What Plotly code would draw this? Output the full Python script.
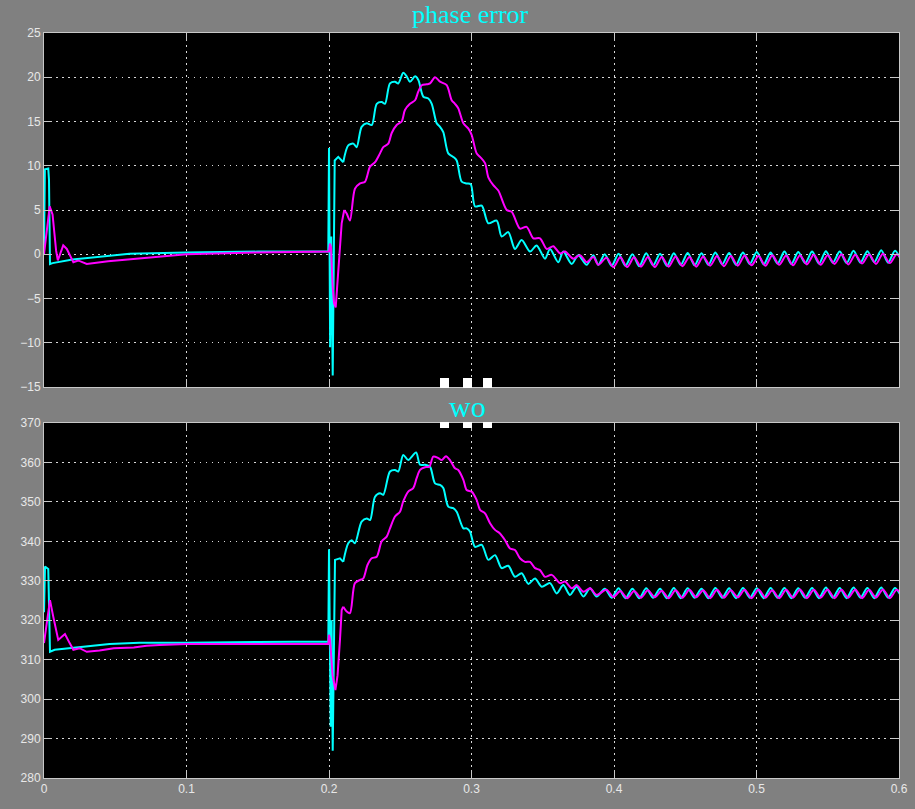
import plotly.graph_objects as go

# ---------------- data ----------------
x_ticks = [0, 0.1, 0.2, 0.3, 0.4, 0.5, 0.6]
x_tick_labels = ["0", "0.1", "0.2", "0.3", "0.4", "0.5", "0.6"]
pe_ticks = [-15, -10, -5, 0, 5, 10, 15, 20, 25]
wo_ticks = [280, 290, 300, 310, 320, 330, 340, 350, 360, 370]

# phase error, cyan signal
pe_cyan_t = [0, 0.0006, 0.003, 0.0035, 0.0042, 0.006, 0.02, 0.046, 0.06, 0.1, 0.15, 0.1995,
             0.2, 0.2008, 0.2016, 0.2026, 0.2040, 0.2065,
             0.2100, 0.2135, 0.2171, 0.2194, 0.2229, 0.2265, 0.2300, 0.2335, 0.2370, 0.2393,
             0.2428, 0.2463, 0.2486, 0.2521, 0.2545, 0.2568, 0.2604, 0.2627, 0.2662, 0.2697,
             0.2721, 0.2756, 0.2779, 0.2802, 0.2837, 0.2872, 0.2896, 0.2931, 0.2966, 0.2995,
             0.3025, 0.3072, 0.3118, 0.3177, 0.3212, 0.3258, 0.3305, 0.3352, 0.3411, 0.3457,
             0.3516, 0.3551, 0.3609, 0.3644, 0.3703, 0.3749, 0.3808, 0.3855, 0.3890]
pe_cyan_v = [0.0, 9.6, 9.7, 8.4, -1.1, -1.0, -0.6, -0.2, 0.05, 0.2, 0.3, 0.3,
             12.0, -10.5, 2.0, -13.7, 10.6, 11.0,
             10.4, 12.3, 12.5, 12.1, 14.4, 14.8, 14.6, 17.0, 17.2, 17.0,
             19.3, 19.5, 19.3, 20.5, 20.1, 19.5, 20.1, 19.7, 17.8, 17.6,
             17.0, 14.8, 14.4, 13.8, 11.4, 11.0, 10.6, 8.2, 8.0, 7.9,
             5.4, 5.5, 3.5, 3.8, 2.0, 2.5, 0.6, 1.6, 0.3, 1.0,
             -0.5, 0.6, -0.9, 0.3, -1.1, -0.1, -1.2, -0.1, -1.2]

# phase error, magenta signal
pe_mag_t = [0, 0.002, 0.004, 0.006, 0.0085, 0.0097, 0.0115, 0.0135, 0.016, 0.0206, 0.024,
            0.030, 0.045, 0.074, 0.1, 0.15, 0.1995,
            0.2, 0.2007, 0.2014, 0.2025, 0.2035, 0.2047, 0.2060, 0.2077, 0.2089, 0.2107,
            0.2124, 0.2147,
            0.2182, 0.2218, 0.2253, 0.2288, 0.2323, 0.2358, 0.2381, 0.2416, 0.2440, 0.2475,
            0.2510, 0.2533, 0.2568, 0.2604, 0.2627, 0.2651, 0.2686, 0.2709, 0.2744, 0.2779,
            0.2826, 0.2861, 0.2884, 0.2907, 0.2943, 0.2978, 0.3001, 0.3036, 0.3060, 0.3095,
            0.3118, 0.3153, 0.3188, 0.3247, 0.3282, 0.3340, 0.3387, 0.3434, 0.3481, 0.3528,
            0.3574, 0.3621, 0.3656, 0.3714, 0.3761, 0.3808, 0.3855, 0.3890]
pe_mag_v = [0.0, 3.1, 5.4, 4.5, 0.4, -0.7, 0.2, 1.0, 0.6, -0.9, -0.7,
            -1.1, -0.8, -0.35, 0.0, 0.2, 0.25,
            0.3, 1.2, 0.8, -3.5, -5.5, -6.0, -3.0, 0.45, 3.5, 5.0,
            4.6, 3.8,
            7.4, 8.0, 8.2, 9.9, 10.4, 11.4, 12.1, 12.5, 13.7, 14.6,
            15.0, 16.3, 17.0, 17.4, 18.4, 19.1, 19.2, 19.3, 20.0, 19.5,
            19.1, 17.4, 17.0, 16.5, 14.8, 14.2, 13.5, 11.4, 11.0, 10.3,
            8.7, 7.8, 7.2, 5.0, 4.8, 2.9, 3.1, 1.8, 1.8, 0.6,
            0.9, 0.1, 0.3, -0.5, -0.1, -0.9, -0.3, -1.2]

# wo, cyan signal
wo_cyan_t = [0, 0.0007, 0.003, 0.0042, 0.0075, 0.018, 0.032, 0.046, 0.067, 0.1, 0.15, 0.1995,
             0.2, 0.2008, 0.2012, 0.2018, 0.2026, 0.2042,
             0.2077, 0.2100, 0.2135, 0.2159, 0.2182, 0.2229, 0.2265, 0.2288, 0.2323, 0.2358,
             0.2381, 0.2428, 0.2463, 0.2486, 0.2521, 0.2556, 0.2611, 0.2639, 0.2674, 0.2709,
             0.2744, 0.2779, 0.2802, 0.2837, 0.2872, 0.2896, 0.2943, 0.2966, 0.2989, 0.3025,
             0.3072, 0.3118, 0.3165, 0.3212, 0.3258, 0.3305, 0.3352, 0.3399, 0.3446, 0.3493,
             0.3551, 0.3598, 0.3644, 0.3691, 0.3738, 0.3785, 0.3832, 0.3878]
wo_cyan_v = [322.0, 333.6, 333.0, 312.0, 312.5, 312.9, 313.5, 314.0, 314.3, 314.3, 314.5, 314.6,
             338.0, 310.0, 293.0, 320.0, 286.9, 335.3,
             335.7, 334.8, 339.5, 340.3, 339.5, 345.0, 345.8, 345.4, 351.3, 352.2,
             351.8, 357.7, 358.1, 357.7, 361.9, 360.6, 362.5, 359.4, 359.4, 358.9,
             354.7, 354.3, 353.5, 348.8, 348.4, 347.5, 343.3, 343.3, 342.5, 338.6,
             339.1, 335.3, 336.5, 333.2, 333.8, 331.0, 331.9, 329.2, 330.6, 328.5,
             329.4, 326.8, 328.9, 326.4, 328.5, 326.0, 328.1, 326.0]

# wo, magenta signal
wo_mag_t = [0, 0.0018, 0.0042, 0.0065, 0.010, 0.0125, 0.0147, 0.018, 0.0206, 0.025, 0.030,
            0.039, 0.049, 0.063, 0.072, 0.081, 0.1, 0.1995,
            0.2, 0.2008, 0.2025, 0.2045, 0.2060, 0.2077, 0.2089, 0.2100, 0.2124, 0.2147,
            0.2182, 0.2218, 0.2241, 0.2270, 0.2300, 0.2335, 0.2370, 0.2405, 0.2428, 0.2463,
            0.2498, 0.2521, 0.2556, 0.2591, 0.2615, 0.2639, 0.2674, 0.2704, 0.2732, 0.2767,
            0.2791, 0.2821, 0.2849, 0.2884, 0.2907, 0.2943, 0.2966, 0.3001, 0.3036, 0.3060,
            0.3095, 0.3130, 0.3165, 0.3200, 0.3235, 0.3270, 0.3305, 0.3340, 0.3375, 0.3411,
            0.3446, 0.3481, 0.3516, 0.3563, 0.3621, 0.3656, 0.3703, 0.3738, 0.3785, 0.3832,
            0.3878]
wo_mag_v = [314.2, 318.4, 325.1, 320.9, 315.0, 315.8, 316.5, 314.2, 312.5, 312.9, 312.0,
            312.3, 312.9, 313.1, 313.5, 313.7, 314.0, 314.0,
            316.3, 315.0, 306.0, 302.3, 306.0, 315.0, 322.6, 323.4, 322.2, 321.8,
            329.4, 330.2, 330.6, 334.0, 335.7, 336.1, 340.0, 341.2, 343.3, 346.3,
            347.5, 350.1, 352.6, 353.5, 356.0, 358.1, 358.8, 358.9, 361.5, 361.1,
            360.6, 361.6, 360.6, 358.5, 358.1, 355.6, 353.0, 352.6, 350.5, 348.0,
            347.1, 344.6, 342.9, 342.0, 340.3, 338.2, 337.8, 335.7, 334.8, 334.8,
            333.2, 332.7, 331.0, 331.5, 329.4, 329.8, 328.1, 328.9, 327.2, 328.1,
            326.4]

# steady-state ripple: sample times (peak / trough alternation) and values
tail_t_cyan = [round(0.3935 + 0.00485 * k, 5) for k in range(44)]
tail_t_mag = [round(0.3947 + 0.00485 * k, 5) for k in range(44)]
pe_cyan_tail = [0.0, -1.3, 0.05, -1.3, 0.0, -1.35, 0.1, -1.25, 0.05, -1.3, 0.1, -1.2,
                0.15, -1.25, 0.1, -1.2, 0.2, -1.15, 0.15, -1.2, 0.2, -1.1, 0.25, -1.15,
                0.2, -1.05, 0.3, -1.1, 0.25, -1.0, 0.3, -1.05, 0.35, -0.95, 0.3, -1.0,
                0.4, -0.95, 0.35, -0.9, 0.45, -0.95, 0.4, -0.9]
pe_mag_tail = [-0.4, -1.45, -0.35, -1.45, -0.35, -1.4, -0.3, -1.45, -0.3, -1.4, -0.25, -1.35,
               -0.3, -1.4, -0.25, -1.3, -0.2, -1.35, -0.2, -1.3, -0.15, -1.25, -0.2, -1.3,
               -0.1, -1.2, -0.15, -1.25, -0.1, -1.15, -0.05, -1.2, -0.1, -1.1, 0.0, -1.15,
               -0.05, -1.05, 0.0, -1.1, 0.05, -1.0, 0.0, -1.0]
wo_cyan_tail = [328.0, 325.7, 328.1, 325.6, 328.0, 325.6, 328.1, 325.7, 328.0, 325.6, 328.2, 325.6,
                328.1, 325.7, 328.0, 325.6, 328.2, 325.7, 328.1, 325.6, 328.2, 325.7, 328.1, 325.6,
                328.2, 325.7, 328.2, 325.6, 328.1, 325.7, 328.2, 325.6, 328.3, 325.7, 328.2, 325.6,
                328.3, 325.7, 328.2, 325.6, 328.3, 325.7, 328.2, 325.6]
wo_mag_tail = [327.7, 325.9, 327.4, 325.6, 327.4, 325.7, 327.6, 325.8, 327.5, 325.6, 327.6, 325.7,
               327.7, 325.8, 327.6, 325.6, 327.7, 325.7, 327.6, 325.8, 327.7, 325.6, 327.8, 325.7,
               327.6, 325.6, 327.7, 325.7, 327.8, 325.6, 327.7, 325.7, 327.8, 325.6, 327.7, 325.7,
               327.8, 325.6, 327.7, 325.7, 327.8, 325.6, 327.7, 325.8]

SMOOTH_FROM = 0.2095  # after the switching spikes the traces are drawn smoothed

CYAN = "#00ffff"
MAGENTA = "#ff00ff"
FRAME = "#c8c8c8"
GRID = "#d8d8d8"
LABEL = "#e8e8e8"

fig = go.Figure()


def add_signal(t, v, tail_t, tail_v, color, xa, ya):
    k = next(i for i, ti in enumerate(t) if ti >= SMOOTH_FROM)
    # start-up and switching spikes: straight segments
    fig.add_trace(go.Scatter(x=t[:k + 1], y=v[:k + 1], mode="lines", line=dict(color=color, width=2),
                             xaxis=xa, yaxis=ya, showlegend=False, hoverinfo="skip"))
    # transient and steady-state ripple: smoothed
    fig.add_trace(go.Scatter(x=t[k:] + tail_t, y=v[k:] + tail_v, mode="lines",
                             line=dict(color=color, width=2, shape="spline", smoothing=0.8),
                             xaxis=xa, yaxis=ya, showlegend=False, hoverinfo="skip"))


add_signal(pe_cyan_t, pe_cyan_v, tail_t_cyan, pe_cyan_tail, CYAN, "x", "y")
add_signal(pe_mag_t, pe_mag_v, tail_t_mag, pe_mag_tail, MAGENTA, "x", "y")
add_signal(wo_cyan_t, wo_cyan_v, tail_t_cyan, wo_cyan_tail, CYAN, "x2", "y2")
add_signal(wo_mag_t, wo_mag_v, tail_t_mag, wo_mag_tail, MAGENTA, "x2", "y2")

W, H = 915, 809
L, R, T, B = 44, 16, 33, 31
plot_h = H - T - B  # 745
plot_w = W - L - R  # 855


def py(px):
    return (H - B - px) / plot_h


def pxx(px):
    return (px - L) / plot_w


axis_common = dict(
    showline=True, linecolor=FRAME, linewidth=1, mirror="ticks",
    ticks="inside", ticklen=8, tickcolor=FRAME, tickwidth=1,
    showgrid=True, gridcolor=GRID, griddash="1.5px,4.5px", gridwidth=1,
    zeroline=False, automargin=False,
    tickfont=dict(family="Liberation Sans, Arial, sans-serif", size=12, color=LABEL),
)

fig.update_layout(
    width=W, height=H,
    margin=dict(l=L, r=R, t=T, b=B, autoexpand=False),
    paper_bgcolor="#808080",
    plot_bgcolor="#000000",
    xaxis=dict(domain=[0, 1], range=[0, 0.6], anchor="y", tickvals=x_ticks,
               showticklabels=False, **axis_common),
    yaxis=dict(domain=[py(387), 1], range=[-15, 25], anchor="x", tickvals=pe_ticks, **axis_common),
    xaxis2=dict(domain=[0, 1], range=[0, 0.6], anchor="y2", tickvals=x_ticks,
                ticktext=x_tick_labels, **axis_common),
    yaxis2=dict(domain=[0, py(423)], range=[280, 370], anchor="x2", tickvals=wo_ticks, **axis_common),
    annotations=[
        dict(text="phase error", x=pxx(470), y=py(14), xref="paper", yref="paper",
             xanchor="center", yanchor="middle", showarrow=False,
             font=dict(family="Liberation Serif, Times New Roman, serif", size=26, color=CYAN)),
        dict(text="wo", x=pxx(467), y=py(406), xref="paper", yref="paper",
             xanchor="center", yanchor="middle", showarrow=False,
             font=dict(family="Liberation Serif, Times New Roman, serif", size=30, color=CYAN)),
    ],
)

# small white selection handles between the two axes
handles = []
for x0, x1 in [(440, 449), (463, 472), (483, 492)]:
    for y0, y1 in [(378, 388), (422, 428)]:
        handles.append(dict(type="rect", xref="paper", yref="paper",
                            x0=pxx(x0), x1=pxx(x1), y0=py(y1), y1=py(y0),
                            fillcolor="#ffffff", line=dict(width=0), layer="above"))
fig.update_layout(shapes=handles)

fig.write_html("out.html", config={"displayModeBar": False},
               post_script="document.body.style.margin='0';document.body.style.overflow='hidden';"
                           "document.body.style.background='#808080';")
